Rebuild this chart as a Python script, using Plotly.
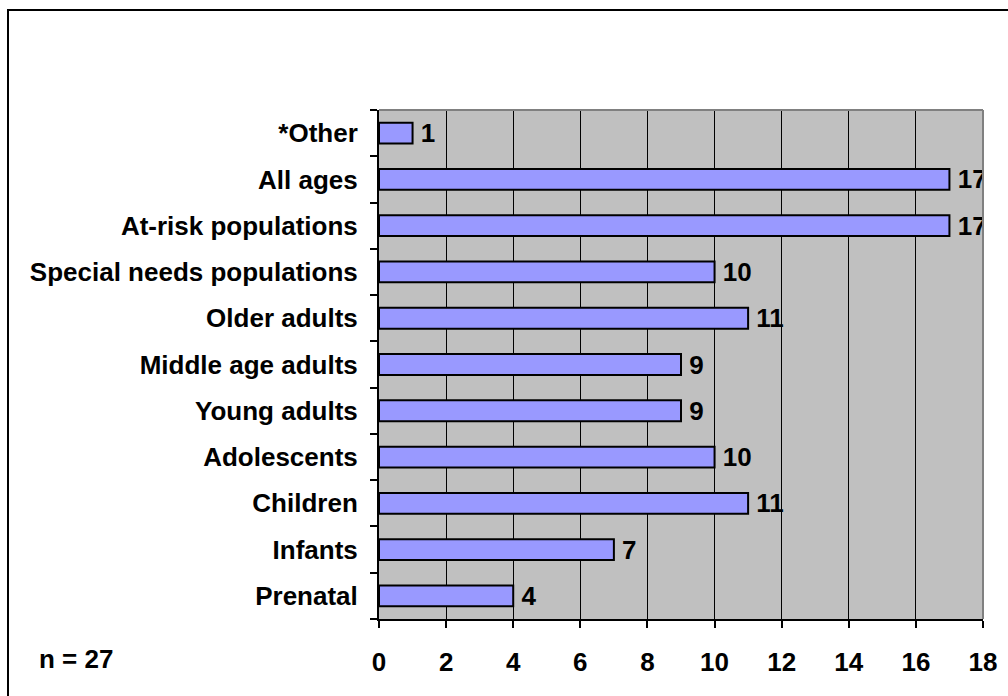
import plotly.graph_objects as go

categories = ["Prenatal", "Infants", "Children", "Adolescents", "Young adults",
              "Middle age adults", "Older adults", "Special needs populations",
              "At-risk populations", "All ages", "*Other"]
values = [4, 7, 11, 10, 9, 9, 11, 10, 17, 17, 1]
x_ticks = [0, 2, 4, 6, 8, 10, 12, 14, 16, 18]
note_text = "n = 27"

W, H = 1008, 696
L, R, T, B = 379, 983, 110, 619
pw, ph = R - L, B - T

def px(x):
    return (x - L) / pw

def py(y):
    return (B - y) / ph

FONT = "Liberation Sans, Arial, sans-serif"
FS = 26

fig = go.Figure(go.Bar(
    x=values, y=categories, orientation="h",
    marker=dict(color="#9999FF", line=dict(color="black", width=2)),
    width=0.45,
    text=[f"\u2009<b>{v}</b>" for v in values], textposition="outside",
    textfont=dict(family=FONT, size=FS, color="black"),
    constraintext="none", cliponaxis=True,
))

fig.update_layout(
    width=W, height=H,
    margin=dict(l=L, r=W - R, t=T, b=H - B),
    paper_bgcolor="white", plot_bgcolor="#C0C0C0",
    showlegend=False,
    font=dict(family=FONT, size=FS, color="black"),
)
fig.update_xaxes(
    range=[0, 18], tickvals=x_ticks, ticktext=[f"<b>{v}</b>" for v in x_ticks],
    showgrid=True, gridcolor="black", gridwidth=1,
    showline=True, linecolor="black", linewidth=2,
    ticks="outside", ticklen=7, tickwidth=2, tickcolor="black",
    tickfont=dict(family=FONT, size=FS, color="black"),
    ticklabelstandoff=12,
    zeroline=False, fixedrange=True,
)
fig.update_yaxes(
    type="category", categoryorder="array", categoryarray=categories,
    tickvals=categories, ticktext=[f"<b>{c}</b>" for c in categories],
    tickson="boundaries",
    showgrid=False,
    showline=True, linecolor="black", linewidth=2,
    ticks="outside", ticklen=7, tickwidth=2, tickcolor="black",
    tickfont=dict(family=FONT, size=FS, color="black"),
    ticklabelstandoff=14,
    fixedrange=True,
)

# gray top and right plot-area edges
fig.add_shape(type="line", xref="paper", yref="paper", x0=0, x1=1, y0=1, y1=1,
              line=dict(color="#808080", width=2), layer="above")
fig.add_shape(type="line", xref="paper", yref="paper", x0=1, x1=1, y0=0, y1=1,
              line=dict(color="#808080", width=2), layer="above")

# outer chart border (top and left visible)
fig.add_shape(type="rect", xref="paper", yref="paper",
              x0=px(8), x1=px(1012), y0=py(700), y1=py(10),
              line=dict(color="black", width=2), layer="above")

fig.add_annotation(text=f"<b>{note_text}</b>", xref="paper", yref="paper",
                   x=px(37), y=py(659), xanchor="left", yanchor="middle",
                   showarrow=False, font=dict(family=FONT, size=FS, color="black"))

fig.write_html("out.html")
